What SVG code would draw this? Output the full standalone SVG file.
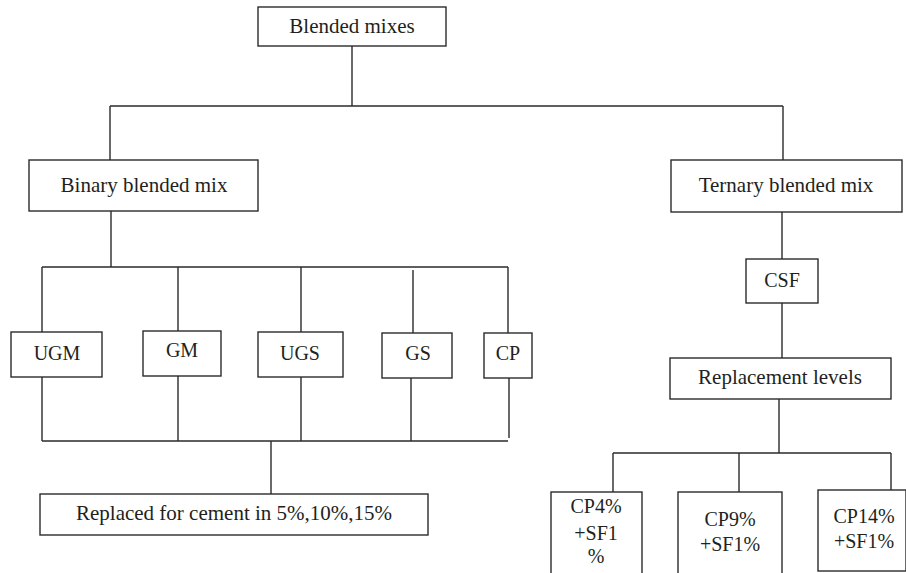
<svg xmlns="http://www.w3.org/2000/svg" width="906" height="573" viewBox="0 0 906 573">
<style>
.box{fill:#fff;stroke:#2b2b2b;stroke-width:1.4}
.ln{fill:none;stroke:#2b2b2b;stroke-width:1.4}
.lab{fill:#231f20;text-anchor:middle}
.t{font-size:21px}
.s{font-size:20px}
</style>
<rect width="906" height="573" fill="#fff"/>
<g id="connectors">
<path class="ln" d="M352 46V106M110 106H783M110 106V160M783 106V160"/>
<path class="ln" d="M111 211V267M42 267H508M42 267V332M178 267V331M301 267V332M413 270V333M508 267V333"/>
<path class="ln" d="M42 377V441M178 376V441M301 377V441M411 378V441M509 378V438M42 441H508M271 441V494"/>
<path class="ln" d="M782 212V259M782 303V358M779 399V453M613 453H891M613 453V492M739 453V492M891 453V492"/>
</g>
<g font-family="Liberation Serif, DejaVu Serif, serif" class="lab">
<g id="n-blended"><rect class="box" x="258" y="7" width="188" height="39"/><text class="t" x="352" y="33">Blended mixes</text></g>
<g id="n-binary"><rect class="box" x="29" y="160" width="229" height="51"/><text class="t" x="144" y="192">Binary blended mix</text></g>
<g id="n-ternary"><rect class="box" x="671" y="160" width="231" height="52"/><text class="t" x="786" y="192">Ternary blended mix</text></g>
<g id="n-ugm"><rect class="box" x="11" y="332" width="91" height="45"/><text class="s" x="57" y="360">UGM</text></g>
<g id="n-gm"><rect class="box" x="143" y="331" width="78" height="45"/><text class="s" x="182" y="357">GM</text></g>
<g id="n-ugs"><rect class="box" x="258" y="332" width="85" height="45"/><text class="s" x="300" y="360">UGS</text></g>
<g id="n-gs"><rect class="box" x="382" y="333" width="70" height="45"/><text class="s" x="418" y="360">GS</text></g>
<g id="n-cp"><rect class="box" x="484" y="333" width="48" height="45"/><text class="s" x="508" y="360">CP</text></g>
<g id="n-replaced"><rect class="box" x="40" y="494" width="388" height="41"/><text class="t" x="234" y="520">Replaced for cement in 5%,10%,15%</text></g>
<g id="n-csf"><rect class="box" x="746" y="259" width="72" height="44"/><text class="s" x="782" y="287">CSF</text></g>
<g id="n-levels"><rect class="box" x="670" y="358" width="221" height="41"/><text class="t" x="780" y="384">Replacement levels</text></g>
<g id="n-cp4"><rect class="box" x="551" y="492" width="91" height="90"/><text class="s" x="596" y="513">CP4%</text><text class="s" x="596" y="540">+SF1</text><text class="s" x="596" y="563">%</text></g>
<g id="n-cp9"><rect class="box" x="678" y="492" width="104" height="90"/><text class="s" x="730" y="526">CP9%</text><text class="s" x="730" y="551">+SF1%</text></g>
<g id="n-cp14"><rect class="box" x="818" y="490" width="88" height="81"/><text class="s" x="864" y="523">CP14%</text><text class="s" x="864" y="548">+SF1%</text></g>
</g>
</svg>
